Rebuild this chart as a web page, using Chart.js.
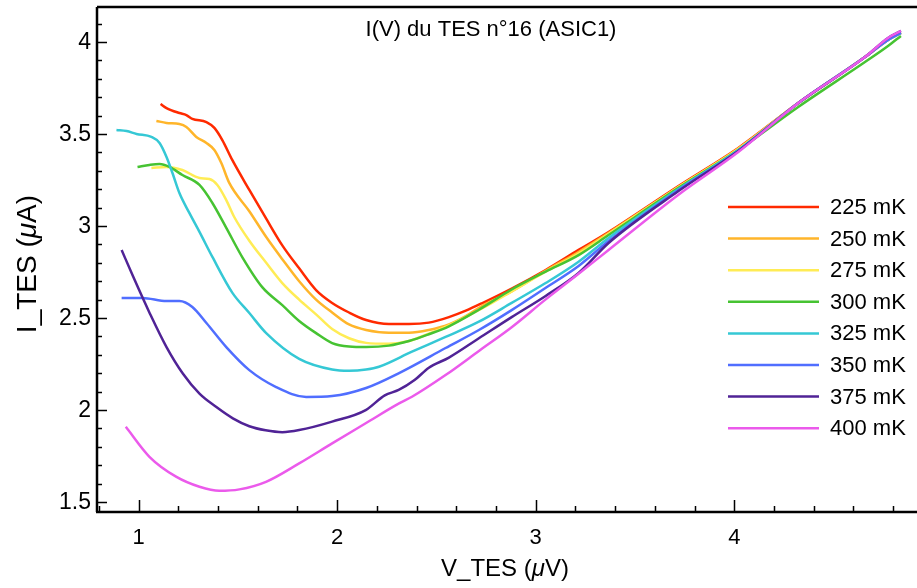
<!DOCTYPE html>
<html><head><meta charset="utf-8">
<script src="https://cdn.jsdelivr.net/npm/chart.js@4.4.0/dist/chart.umd.min.js"></script>
<style>html,body{margin:0;padding:0;background:#fff;}canvas{display:block;}</style>
</head><body>
<canvas id="c" width="917" height="588"></canvas>
<script>
const seriesLabels = ['225 mK','250 mK','275 mK','300 mK','325 mK','350 mK','375 mK','400 mK'];
const seriesColors = ['#ff2a00','#ffb52a','#ffec55','#46c332','#35c8d5','#506eff','#502396','#eb5aeb'];

const v225 = [1.111,1.141,1.206,1.241,1.271,1.342,1.382,1.422,1.472,1.558,1.643,1.724,1.809,1.894,1.975,2.060,2.146,2.261,2.362,2.462,2.563,2.648,2.729,2.879,3.050,3.216,3.367,3.719,4.020,4.322,4.658,4.774,4.839];
const i225 = [3.663,3.641,3.614,3.603,3.582,3.565,3.533,3.467,3.359,3.196,3.040,2.895,2.770,2.652,2.582,2.530,2.489,2.467,2.467,2.475,2.505,2.540,2.580,2.660,2.761,2.870,2.967,3.217,3.424,3.668,3.918,4.011,4.049];

const v250 = [1.090,1.141,1.206,1.241,1.291,1.342,1.382,1.417,1.457,1.558,1.643,1.724,1.809,1.894,1.975,2.060,2.146,2.261,2.362,2.462,2.563,2.648,2.729,2.879,3.050,3.216,3.367,3.719,4.020,4.322,4.658,4.774,4.839];
const i250 = [3.571,3.560,3.554,3.538,3.484,3.451,3.413,3.342,3.234,3.080,2.940,2.820,2.700,2.600,2.530,2.465,2.435,2.420,2.420,2.435,2.465,2.510,2.565,2.645,2.757,2.859,2.962,3.212,3.421,3.668,3.918,4.011,4.049];

const v275 = [1.065,1.141,1.221,1.307,1.357,1.397,1.442,1.482,1.558,1.643,1.724,1.809,1.894,1.975,2.060,2.146,2.261,2.362,2.462,2.563,2.729,2.879,3.050,3.216,3.367,3.719,4.020,4.322,4.658,4.774,4.839];
const i275 = [3.315,3.321,3.304,3.261,3.255,3.223,3.141,3.049,2.920,2.800,2.690,2.600,2.520,2.440,2.390,2.365,2.360,2.375,2.415,2.460,2.552,2.645,2.752,2.850,2.957,3.212,3.418,3.668,3.918,4.011,4.049];

const v300 = [0.995,1.055,1.106,1.156,1.221,1.307,1.372,1.442,1.523,1.623,1.724,1.809,1.894,1.975,2.060,2.146,2.261,2.362,2.462,2.563,2.714,2.879,3.050,3.216,3.367,3.719,4.020,4.322,4.658,4.774,4.839];
const i300 = [3.321,3.332,3.337,3.321,3.277,3.223,3.125,2.990,2.830,2.668,2.570,2.484,2.418,2.364,2.345,2.342,2.350,2.375,2.412,2.455,2.545,2.655,2.752,2.842,2.951,3.207,3.413,3.647,3.891,3.978,4.033];

const v325 = [0.889,0.940,0.990,1.065,1.106,1.141,1.171,1.206,1.256,1.307,1.372,1.472,1.558,1.643,1.809,1.975,2.060,2.146,2.211,2.377,2.546,2.714,2.879,3.050,3.216,3.367,3.719,4.020,4.322,4.658,4.774,4.839];
const i325 = [3.522,3.516,3.500,3.484,3.451,3.375,3.288,3.179,3.071,2.968,2.832,2.638,2.527,2.418,2.278,2.220,2.213,2.220,2.235,2.317,2.397,2.480,2.582,2.690,2.806,2.935,3.201,3.413,3.668,3.918,4.011,4.049];

const v350 = [0.915,1.020,1.141,1.206,1.271,1.342,1.442,1.558,1.693,1.844,1.975,2.146,2.312,2.546,2.714,2.879,3.049,3.216,3.367,3.719,4.020,4.322,4.658,4.774,4.839];
const i350 = [2.609,2.609,2.592,2.592,2.560,2.473,2.342,2.217,2.125,2.071,2.076,2.120,2.201,2.337,2.435,2.543,2.663,2.783,2.918,3.196,3.408,3.668,3.918,4.011,4.049];

const v375 = [0.915,0.973,1.057,1.141,1.224,1.307,1.392,1.475,1.558,1.640,1.724,1.809,1.975,2.144,2.240,2.310,2.390,2.462,2.563,2.714,2.879,3.050,3.216,3.367,3.719,4.020,4.322,4.658,4.774,4.839];
const i375 = [2.870,2.725,2.525,2.342,2.197,2.089,2.016,1.955,1.912,1.890,1.880,1.891,1.937,2.000,2.080,2.109,2.163,2.230,2.285,2.390,2.505,2.620,2.745,2.908,3.190,3.408,3.668,3.918,4.022,4.060];

const v400 = [0.936,1.055,1.189,1.307,1.407,1.508,1.642,1.809,1.975,2.144,2.312,2.377,2.546,2.714,2.879,3.049,3.216,3.367,3.719,4.020,4.322,4.658,4.774,4.839];
const i400 = [1.909,1.746,1.638,1.583,1.561,1.569,1.610,1.710,1.819,1.928,2.036,2.072,2.190,2.321,2.450,2.600,2.740,2.870,3.170,3.402,3.668,3.918,4.022,4.060];

const xTickValues = [1,2,3,4];
const xTickLabels = ['1','2','3','4'];
const yTickValues = [1.5,2,2.5,3,3.5,4];
const yTickLabels = ['1.5','2','2.5','3','3.5','4'];
const chartTitle = 'I(V) du TES n°16 (ASIC1)';

const allV = [v225,v250,v275,v300,v325,v350,v375,v400];
const allI = [i225,i250,i275,i300,i325,i350,i375,i400];

const FONT = '"Liberation Sans", Arial, Helvetica, sans-serif';

const datasets = allV.map((vs, k) => ({
  label: seriesLabels[k],
  data: vs.map((v, j) => ({x: v, y: allI[k][j]})),
  borderColor: seriesColors[k],
  backgroundColor: seriesColors[k],
  borderWidth: 2.5,
  pointRadius: 0,
  fill: false,
  cubicInterpolationMode: 'monotone',
  order: 7 - k
}));

function drawMixed(ctx, parts, size, cx, cy, rotate) {
  let total = 0;
  const widths = parts.map(p => {
    ctx.font = (p[1] ? 'italic ' : '') + size + 'px ' + FONT;
    const w = ctx.measureText(p[0]).width;
    total += w; return w;
  });
  ctx.save();
  ctx.translate(cx, cy);
  if (rotate) ctx.rotate(-Math.PI / 2);
  ctx.textBaseline = 'middle';
  ctx.textAlign = 'left';
  ctx.fillStyle = '#000';
  let x = -total / 2;
  parts.forEach((p, i) => {
    ctx.font = (p[1] ? 'italic ' : '') + size + 'px ' + FONT;
    ctx.fillText(p[0], x, 0);
    x += widths[i];
  });
  ctx.restore();
}

const framePlugin = {
  id: 'igorFrame',
  afterDraw(chart) {
    const ctx = chart.ctx;
    const a = chart.chartArea;
    const xs = chart.scales.x, ys = chart.scales.y;
    ctx.save();
    ctx.strokeStyle = '#000';
    ctx.lineWidth = 2.5;
    ctx.beginPath();
    ctx.moveTo(a.left, a.top); ctx.lineTo(a.right, a.top);
    ctx.moveTo(a.left, a.top); ctx.lineTo(a.left, a.bottom);
    ctx.moveTo(a.left - 1, a.bottom); ctx.lineTo(a.right, a.bottom);
    ctx.stroke();

    ctx.lineWidth = 1.5;
    ctx.beginPath();
    for (let k = 15; k <= 41; k++) {
      const v = k / 10;
      const y = Math.round(ys.getPixelForValue(v)) + 0.5;
      const major = (k % 5 === 0);
      ctx.moveTo(a.left, y); ctx.lineTo(a.left + (major ? 10 : 5), y);
    }
    for (let k = 4; k <= 24; k++) {
      const v = k / 5;
      if (v < xs.min || v > xs.max) continue;
      const x = Math.round(xs.getPixelForValue(v)) + 0.5;
      const major = (k % 5 === 0);
      ctx.moveTo(x, a.bottom); ctx.lineTo(x, a.bottom - (major ? 12 : 6));
    }
    ctx.stroke();

    ctx.fillStyle = '#000';
    ctx.font = '23px ' + FONT;
    ctx.textAlign = 'right';
    ctx.textBaseline = 'middle';
    yTickValues.forEach((v, i) => {
      ctx.fillText(yTickLabels[i], a.left - 6, ys.getPixelForValue(v) + 1);
    });
    ctx.font = '22px ' + FONT;
    ctx.textAlign = 'center';
    xTickValues.forEach((v, i) => {
      ctx.fillText(xTickLabels[i], xs.getPixelForValue(v), a.bottom + 26);
    });

    ctx.font = '22px ' + FONT;
    ctx.textAlign = 'center';
    ctx.fillText(chartTitle, 491, 30);

    drawMixed(ctx, [['V_TES (', false], ['\u03BC', true], ['V)', false]], 24, 505, 569, false);
    drawMixed(ctx, [['I_TES (', false], ['\u03BC', true], ['A)', false]], 28, 28, 264, true);

    ctx.font = '22px ' + FONT;
    ctx.textAlign = 'left';
    ctx.textBaseline = 'middle';
    seriesLabels.forEach((lab, k) => {
      const y = 207 + k * 31.6;
      ctx.strokeStyle = seriesColors[k];
      ctx.lineWidth = 2.5;
      ctx.beginPath();
      ctx.moveTo(728, y); ctx.lineTo(819, y);
      ctx.stroke();
      ctx.fillStyle = '#000';
      ctx.fillText(lab, 830, y + 1);
    });
    ctx.restore();
  }
};

new Chart(document.getElementById('c'), {
  type: 'line',
  data: { datasets },
  options: {
    responsive: false,
    animation: false,
    layout: { padding: { left: 97, top: 7, right: 0, bottom: 76 } },
    plugins: { legend: { display: false }, tooltip: { enabled: false }, title: { display: false } },
    scales: {
      x: { type: 'linear', min: 0.791, max: 4.920, display: false },
      y: { type: 'linear', min: 1.446, max: 4.190, display: false }
    }
  },
  plugins: [framePlugin]
});
</script>
</body></html>
